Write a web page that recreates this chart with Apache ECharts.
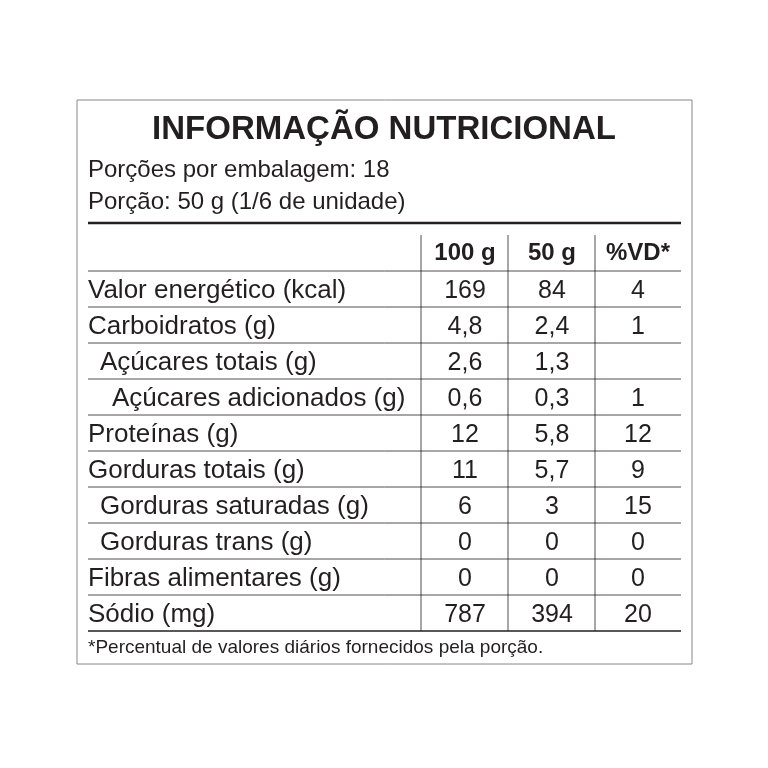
<!DOCTYPE html>
<html><head><meta charset="utf-8">
<script src="https://cdn.jsdelivr.net/npm/echarts@6/dist/echarts.min.js"></script>
<style>html,body{margin:0;background:#fff}#c{width:768px;height:768px}</style>
</head><body><div id="c"></div>
<script>
var title = 'INFORMAÇÃO NUTRICIONAL';
var servings = ['Porções por embalagem: 18', 'Porção: 50 g (1/6 de unidade)'];
var headers = ['100 g', '50 g', '%VD*'];
var nutrients = ['Valor energético (kcal)', 'Carboidratos (g)', 'Açúcares totais (g)', 'Açúcares adicionados (g)',
  'Proteínas (g)', 'Gorduras totais (g)', 'Gorduras saturadas (g)', 'Gorduras trans (g)', 'Fibras alimentares (g)', 'Sódio (mg)'];
var indent = [0, 0, 1, 2, 0, 0, 1, 1, 0, 0];
var per100 = ['169', '4,8', '2,6', '0,6', '12', '11', '6', '0', '0', '787'];
var per50 = ['84', '2,4', '1,3', '0,3', '5,8', '5,7', '3', '0', '0', '394'];
var vd = ['4', '1', '', '1', '12', '9', '15', '0', '0', '20'];
var footnote = '*Percentual de valores diários fornecidos pela porção.';

var ink = '#231f20';
var font = '"Liberation Sans", Arial, Helvetica, sans-serif';
var left = 88, right = 681, top0 = 271, rowH = 36;
var colX = [465, 552, 638];
var g = [];
function txt(x, y, s, size, w, align, fam) {
  g.push({ type: 'text', x: x, y: y, style: { text: s, fill: ink, font: (w || 'normal') + ' ' + size + 'px ' + (fam || font), textAlign: align || 'left', textVerticalAlign: 'middle' } });
}
function line(x1, y1, x2, y2, w) {
  g.push({ type: 'line', shape: { x1: x1, y1: y1, x2: x2, y2: y2 }, style: { stroke: ink, lineWidth: w } });
}
g.push({ type: 'rect', shape: { x: 77, y: 100, width: 615, height: 564 }, style: { fill: '#fff', stroke: '#888', lineWidth: 1 } });
txt(384, 130, title, 33, 'bold', 'center');
txt(left, 170, servings[0], 24);
txt(left, 202, servings[1], 24);
line(left, 223, right, 223, 2.5);
headers.forEach(function (h, i) { txt(colX[i], 253, h, 24, 'bold', 'center'); });
line(left, top0, right, top0, 0.8);
nutrients.forEach(function (n, i) {
  var cy = top0 + rowH * i + rowH / 2 + 2;
  txt(left + indent[i] * 12, cy, n, 26);
  txt(colX[0], cy, per100[i], 25, 'normal', 'center');
  txt(colX[1], cy, per50[i], 25, 'normal', 'center');
  txt(colX[2], cy, vd[i], 25, 'normal', 'center');
  var yb = top0 + rowH * (i + 1);
  line(left, yb, right, yb, i == nutrients.length - 1 ? 1.5 : 0.8);
});
[421, 508, 595].forEach(function (x) { line(x, 235, x, top0 + rowH * nutrients.length, 0.8); });
txt(left, 648, footnote, 19);

var chart = echarts.init(document.getElementById('c'));
chart.setOption({ animation: false, graphic: { elements: g } });
</script></body></html>
